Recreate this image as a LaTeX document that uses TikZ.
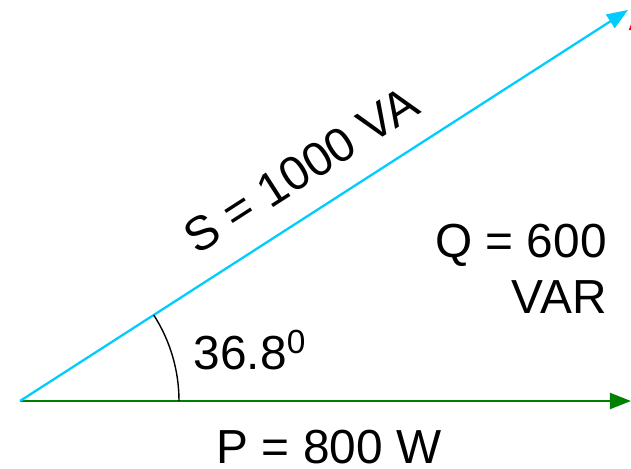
\documentclass[tikz,border=0pt]{standalone}
\usepackage{fontspec}
\setmainfont{Liberation Sans}
\usetikzlibrary{arrows.meta}
\definecolor{scyan}{RGB}{0,204,255}
\definecolor{pgreen}{RGB}{0,128,0}
\begin{document}
\begin{tikzpicture}[
    x=0.02cm, y=-0.02cm,
    >={Triangle[length=12pt,width=9pt]},
    label/.style={inner sep=0pt, font=\fontsize{27.2}{32}\selectfont},
    parrow/.style={->, line width=1.6pt, draw=pgreen, fill=pgreen},
    sarrow/.style={->, line width=1.3pt, draw=scyan, fill=scyan},
    qarrow/.style={->, line width=1.6pt, draw=red, fill=red}
]
  \useasboundingbox (0,0) rectangle (631,469);

  \coordinate (O) at (20,401);
  \coordinate (Pend) at (631,401);
  \coordinate (Send) at (628,10);
  \coordinate (Qbase) at (637,401);
  \coordinate (Qtip) at (637,9);

  \draw[qarrow] (Qbase) -- (Qtip);
  \draw[parrow] (O) -- (Pend);
  \draw[sarrow] (O) -- (Send);

  % angle arc
  \draw[black, line width=0.8pt] (179,401) arc[start angle=0, end angle=-32.7, radius=159];

  % labels
  \node[label, rotate=32.7] (slabel) at (301,170) {S = 1000 VA};
  \node[label, align=right] (qlabel) at (521,269) {Q = 600\\VAR};
  \node[label] (anglelabel) at (250,350) {36.8\textsuperscript{0}};
  \node[label] (plabel) at (329,447) {P = 800 W};
\end{tikzpicture}
\end{document}
